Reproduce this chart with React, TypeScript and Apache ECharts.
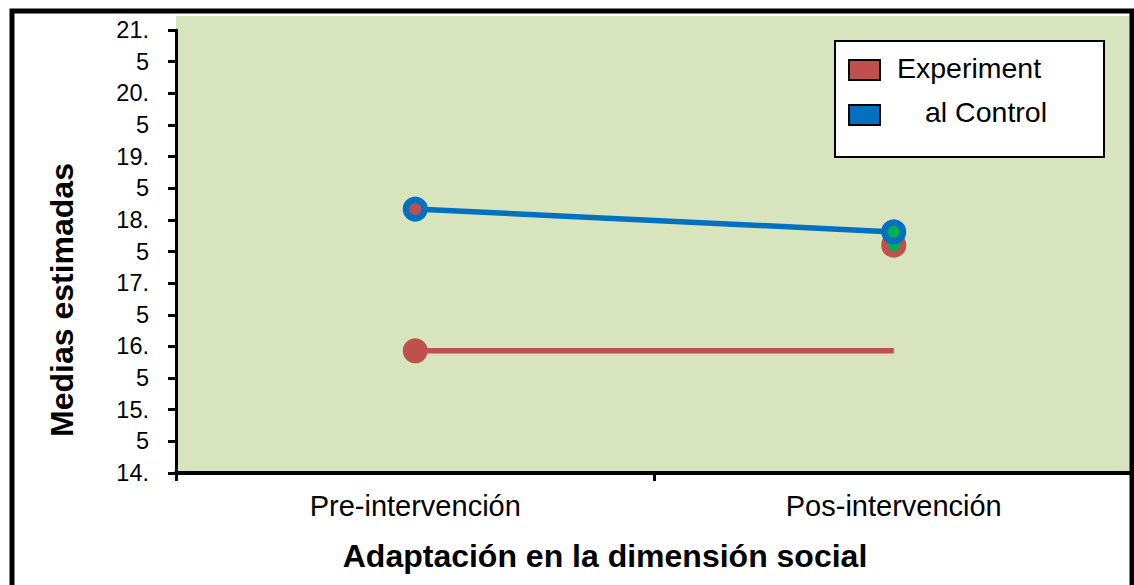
import React, { useEffect, useRef } from "react";
import * as echarts from "echarts";

const categories = ["Pre-intervención", "Pos-intervención"];
const experimentalLine = [15.93, 15.93];
const experimentalPost = 17.6;
const controlValues = [18.17, 17.81];
const yMin = 14;
const yMax = 21;
const yInterval = 0.5;
const legendLabels = ["Experiment", "al Control"];
const xTitle = "Adaptación en la dimensión social";
const yTitle = "Medias estimadas";

const RED = "#c0504d";
const BLUE = "#0070c0";
const GREEN = "#00b050";
const BG = "#d7e4bd";
const FONT = "'Liberation Sans', Arial, sans-serif";

export default function App() {
  const ref = useRef<HTMLDivElement>(null);
  useEffect(() => {
    if (!ref.current) return;
    const chart = echarts.init(ref.current, null, { renderer: "svg" });
    chart.setOption({
      animation: false,
      grid: { left: 176, right: 1, top: 30, bottom: 112, containLabel: false },
      xAxis: {
        type: "category",
        data: categories,
        boundaryGap: true,
        axisLine: { show: true, lineStyle: { color: "#000", width: 4 } },
        axisTick: { show: true, length: 8, lineStyle: { color: "#000", width: 3 } },
        axisLabel: { color: "#000", fontSize: 29, fontFamily: FONT, margin: 18 },
        splitLine: { show: false },
      },
      yAxis: {
        type: "value",
        min: yMin,
        max: yMax,
        interval: yInterval,
        axisLine: { show: true, lineStyle: { color: "#000", width: 3 } },
        axisTick: { show: true, length: 8, lineStyle: { color: "#000", width: 3 } },
        axisLabel: {
          color: "#000",
          fontSize: 23.5,
          fontFamily: FONT,
          margin: 27,
          formatter: (v: number) => (Number.isInteger(v) ? `${v}.` : "5"),
        },
        splitLine: { show: false },
      },
      series: [
        {
          name: legendLabels[0],
          type: "line",
          z: 2,
          data: [
            { value: experimentalLine[0], symbol: "circle", symbolSize: 25 },
            { value: experimentalLine[1], symbol: "none" },
          ],
          lineStyle: { color: RED, width: 5.5 },
          itemStyle: { color: RED },
        },
        {
          name: legendLabels[0] + " post",
          type: "scatter",
          z: 3,
          data: [[categories[1], experimentalPost]],
          symbol: "circle",
          symbolSize: 18.5,
          itemStyle: { color: GREEN, borderColor: RED, borderWidth: 6.5, opacity: 1 },
        },
        {
          name: legendLabels[1],
          type: "line",
          z: 4,
          data: [
            { value: controlValues[0], itemStyle: { color: RED, borderColor: BLUE, borderWidth: 6.5 } },
            { value: controlValues[1], itemStyle: { color: GREEN, borderColor: BLUE, borderWidth: 6.5 } },
          ],
          symbol: "circle",
          symbolSize: 18.5,
          showSymbol: true,
          lineStyle: { color: BLUE, width: 5.5 },
          itemStyle: { color: BLUE, borderColor: BLUE, borderWidth: 6.5 },
        },
      ],
      graphic: [
        {
          type: "rect",
          z: -10,
          silent: true,
          shape: { x: 176, y: 16, width: 955, height: 457 },
          style: { fill: BG },
        },
        {
          type: "rect",
          z: 100,
          silent: true,
          shape: { x: 12, y: 11, width: 1120, height: 600 },
          style: { fill: "none", stroke: "#000", lineWidth: 5 },
        },
        {
          type: "rect",
          z: 100,
          shape: { x: 835, y: 41, width: 269, height: 116 },
          style: { fill: "#fff", stroke: "#000", lineWidth: 2 },
        },
        {
          type: "rect",
          z: 101,
          shape: { x: 849, y: 60, width: 31, height: 20 },
          style: { fill: RED, stroke: "#000", lineWidth: 2 },
        },
        {
          type: "rect",
          z: 101,
          shape: { x: 849, y: 105, width: 31, height: 20 },
          style: { fill: BLUE, stroke: "#000", lineWidth: 2 },
        },
        {
          type: "text",
          z: 101,
          x: 897,
          y: 68,
          style: {
            text: legendLabels[0],
            fill: "#000",
            font: `28.5px ${FONT}`,
            textAlign: "left",
            textVerticalAlign: "middle",
          },
        },
        {
          type: "text",
          z: 101,
          x: 925,
          y: 112,
          style: {
            text: legendLabels[1],
            fill: "#000",
            font: `28.5px ${FONT}`,
            textAlign: "left",
            textVerticalAlign: "middle",
          },
        },
        {
          type: "text",
          z: 101,
          x: 605,
          y: 556,
          style: {
            text: xTitle,
            fill: "#000",
            font: `bold 32px ${FONT}`,
            textAlign: "center",
            textVerticalAlign: "middle",
          },
        },
        {
          type: "text",
          z: 101,
          x: 62,
          y: 300,
          rotation: Math.PI / 2,
          style: {
            text: yTitle,
            fill: "#000",
            font: `bold 32px ${FONT}`,
            textAlign: "center",
            textVerticalAlign: "middle",
          },
        },
      ],
    });
    return () => chart.dispose();
  }, []);
  return (
    <div
      ref={ref}
      style={{ position: "fixed", left: 0, top: 0, width: 1134, height: 585, background: "#fff" }}
    />
  );
}
